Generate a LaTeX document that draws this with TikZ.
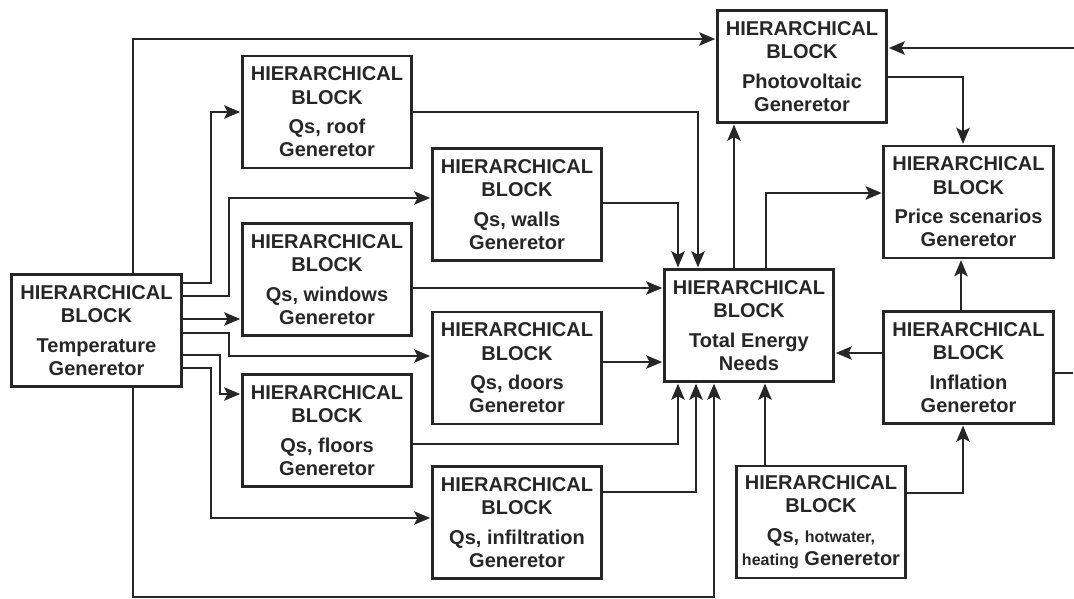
\documentclass[tikz,border=0pt]{standalone}
\usepackage{fontspec}
\setmainfont{Liberation Sans}
\usepackage{tikz}
\usetikzlibrary{positioning}
\usetikzlibrary{arrows.meta}
\definecolor{ink}{HTML}{262626}

\tikzset{
  hblock/.style={draw=ink, line width=2.2pt, minimum width=127pt, minimum height=84pt,
    align=center, inner sep=0pt, text=ink, font=\fontsize{15}{17.3}\selectfont\bfseries},
  conn/.style={draw=ink, line width=1.6pt}
}
\newcommand{\hb}[1]{HIERARCHICAL\\BLOCK\\[5pt]#1}

\begin{document}
\begin{tikzpicture}[x=0.75pt,y=-0.75pt,->,>={Stealth[length=12pt,width=10pt,inset=2.5pt]},shorten >=0.5pt]
  \useasboundingbox (0,0) rectangle (1074,599);
  % blocks
  \node[hblock] (temp)    at (96.5,330.5) {\hb{Temperature\\Generetor}};
  \node[hblock] (roof)    at (327,112)    {\hb{Qs, roof\\Generetor}};
  \node[hblock] (windows) at (327,279.5)  {\hb{Qs, windows\\Generetor}};
  \node[hblock] (floors)  at (327,430.5)  {\hb{Qs, floors\\Generetor}};
  \node[hblock] (walls)   at (517,204.5)  {\hb{Qs, walls\\Generetor}};
  \node[hblock] (doors)   at (517,368)    {\hb{Qs, doors\\Generetor}};
  \node[hblock] (infil)   at (517,522.5)  {\hb{Qs, infiltration\\Generetor}};
  \node[hblock] (total)   at (749,325.5)  {\hb{Total Energy\\Needs}};
  \node[hblock] (pv)      at (802,66.5)   {\hb{Photovoltaic\\Generetor}};
  \node[hblock] (price)   at (968.5,202)  {\hb{Price scenarios\\Generetor}};
  \node[hblock] (infl)    at (968.5,367.5){\hb{Inflation\\Generetor}};
  \node[hblock] (hot)     at (821,522)
    {\hb{Qs, {\fontsize{12}{14}\selectfont hotwater,}\\{\fontsize{12}{14}\selectfont heating} Generetor}};
  \coordinate (inR)  at (1074,48);
  \coordinate (outR) at (1074,373);

  % from temperature
  \path[conn] (temp.north -| 133,0) |- (pv.west |- 0,39);
  \path[conn] (temp.east |- 0,283) -- (211,283) |- (roof.west);
  \path[conn] (temp.east |- 0,296) -- (229,296) |- (walls.west |- 0,198);
  \path[conn] (temp.east |- 0,319) -- (windows.west |- 0,319);
  \path[conn] (temp.east |- 0,333) -- (229,333) |- (doors.west |- 0,356);
  \path[conn] (temp.east |- 0,355) -- (220,355) |- (floors.west |- 0,394);
  \path[conn] (temp.east |- 0,368) -- (211,368) |- (infil.west |- 0,518);
  \path[conn] (temp.south -| 133,0) |- (714,597) -- (total.south -| 714,0);

  % into total
  \path[conn] (roof.east) -| (total.north -| 698,0);
  \path[conn] (walls.east |- 0,203) -| (total.north -| 678,0);
  \path[conn] (windows.east |- 0,288) -- (total.west |- 0,288);
  \path[conn] (doors.east |- 0,362) -- (total.west |- 0,362);
  \path[conn] (floors.east |- 0,444) -| (total.south -| 678,0);
  \path[conn] (infil.east |- 0,492) -| (total.south -| 696,0);
  \path[conn] (hot.north -| 765,0) -- (total.south -| 765,0);
  \path[conn] (infl.west |- 0,353) -- (total.east |- 0,353);

  % right side
  \path[conn] (total.north -| 734,0) -- (pv.south -| 734,0);
  \path[conn] (total.north -| 766,0) |- (price.west |- 0,193);
  \path[conn] (pv.east |- 0,77) -| (price.north -| 963,0);
  \path[conn] (infl.north -| 961,0) -- (price.south -| 961,0);
  \path[conn] (hot.east |- 0,493) -| (infl.south -| 963,0);
  \path[conn] (inR) -- (pv.east |- inR);
  \path[conn,-] (infl.east |- outR) -- (outR);
\end{tikzpicture}
\end{document}
